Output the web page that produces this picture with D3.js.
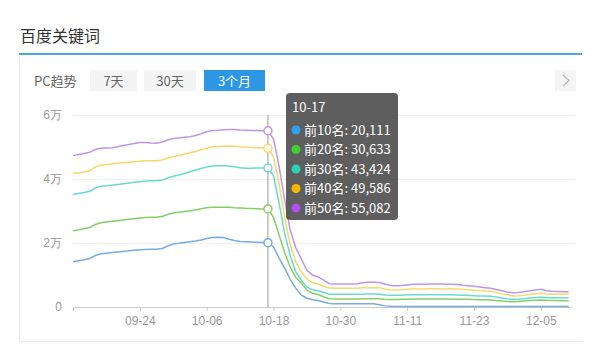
<!DOCTYPE html>
<html lang="zh">
<head>
<meta charset="UTF-8">
<title>百度关键词</title>
<script src="https://d3js.org/d3.v7.min.js"></script>
<style>
  body { margin: 0; background: #fff; }
  svg { display: block; font-family: "Noto Sans CJK SC", "Noto Sans", sans-serif; }
  .tick text { fill: #999; font-size: 12px; }
</style>
</head>
<body>
<svg id="chart" width="600" height="355"></svg>
<script>
// daily ranks, 09-12 .. 12-10
const top10 = [14160, 14470, 14780, 15160, 16090, 16620, 16810, 17000, 17190, 17375, 17560, 17720, 17875, 18000, 18030, 18030, 18280, 19060, 19690, 19900, 20160, 20400, 20625, 20940, 21400, 21750, 21780, 21720, 21160, 20750, 20470, 20375, 20310, 20250, 20190, 20111,
  18750, 15300, 12200, 8600, 5900, 3700, 2750, 2250, 2000, 1550, 1100,
  1030, 1030, 1030, 1030, 1030, 1030, 1020, 1000, 700, 350, 200, 150, 150, 150, 150, 150, 150, 150, 150, 150, 150, 150, 150, 150, 150, 150, 150, 150, 150, 150, 150, 150, 150, 150, 150, 150, 150, 150, 150, 150, 150, 150, 150];
const top20 = [23810, 24125, 24440, 24840, 25780, 26340, 26560, 26780, 26970, 27190, 27400, 27590, 27810, 27970, 28030, 28030, 28280, 28900, 29375, 29590, 29840, 30060, 30310, 30690, 31000, 31160, 31190, 31190, 31160, 31030, 30940, 30840, 30780, 30720, 30660, 30633,
  28000, 22500, 17000, 12500, 9200, 7400, 5300, 4300, 3900, 3200, 2600,
  2500, 2500, 2500, 2500, 2500, 2550, 2600, 2600, 2550, 2400, 2350, 2350, 2400, 2450, 2500, 2500, 2500, 2500, 2500, 2500, 2480, 2450, 2450, 2400, 2400, 2350, 2300, 2250, 2200, 2050, 1850, 1700, 1650, 1700, 1850, 2000, 2100, 2190, 2100, 2000, 2000, 1970, 1970];
const top30 = [35160, 35470, 35780, 36160, 37190, 37720, 37870, 38060, 38280, 38530, 38750, 38970, 39160, 39375, 39470, 39470, 39690, 40310, 40840, 41250, 41720, 42280, 42810, 43280, 43750, 44060, 44125, 44125, 44060, 43810, 43500, 43340, 43375, 43440, 43440, 43424,
  41000, 32500, 23000, 16000, 11000, 8300, 6200, 5400, 5100, 4600, 4000,
  3950, 3950, 3950, 3950, 3950, 4000, 4050, 4050, 4000, 3750, 3650, 3650, 3700, 3800, 3850, 3850, 3850, 3850, 3850, 3850, 3800, 3800, 3780, 3700, 3650, 3550, 3450, 3400, 3350, 3100, 2800, 2550, 2400, 2450, 2600, 2800, 2950, 3030, 2950, 2900, 2900, 2900, 2900];
const top40 = [41720, 41940, 42190, 42500, 43750, 44375, 44530, 44690, 44910, 45060, 45220, 45375, 45530, 45720, 45720, 45720, 45940, 46560, 47030, 47340, 47720, 48190, 48590, 49130, 49590, 50000, 50160, 50250, 50310, 50220, 50060, 49940, 49810, 49750, 49690, 49586,
  47000, 38500, 28000, 19500, 14000, 11000, 8700, 7600, 7200, 6500, 5900,
  5840, 5840, 5840, 5840, 5850, 6000, 6050, 6050, 6000, 5600, 5400, 5350, 5400, 5550, 5650, 5650, 5650, 5700, 5700, 5650, 5650, 5620, 5600, 5500, 5400, 5250, 5150, 5000, 4900, 4500, 4100, 3800, 3450, 3500, 3700, 3950, 4150, 4280, 4100, 4000, 3980, 3970, 3970];
const top50 = [47300, 47660, 47970, 48340, 49220, 49625, 49690, 49780, 50090, 50470, 50780, 51090, 51410, 51410, 51250, 51160, 51560, 52190, 52660, 52810, 53030, 53220, 53590, 54120, 54780, 55160, 55250, 55380, 55500, 55470, 55310, 55220, 55160, 55120, 55090, 55082,
  52500, 44000, 33500, 24000, 18500, 15000, 11500, 10000, 9400, 8400, 7300,
  7190, 7190, 7190, 7190, 7250, 7600, 7700, 7700, 7650, 7200, 6700, 6660, 6700, 6900, 7090, 7100, 7100, 7150, 7150, 7150, 7100, 7100, 7050, 6800, 6660, 6450, 6250, 6050, 5840, 5500, 5100, 4700, 4470, 4550, 4780, 5050, 5300, 5530, 5100, 4900, 4850, 4800, 4780];

const seriesNames = ["前10名", "前20名", "前30名", "前40名", "前50名"];
const lineColors = ["#76acdf", "#86cf68", "#68dad2", "#f6d86c", "#c096e4"];
const dotColors = ["#2f9ff0", "#44cc30", "#27d3b6", "#f7b600", "#b050f0"];
const tickLabels = ["09-12", "09-24", "10-06", "10-18", "10-30", "11-11", "11-23", "12-05"];
const yTicks = [0, 20000, 40000, 60000];
const yTickLabels = ["0", "2万", "4万", "6万"];
const buttons = ["7天", "30天", "3个月"];
const hoverDay = "10-17";

const series = [top10, top20, top30, top40, top50];
const fmtDay = d3.timeFormat("%m-%d");
const days = d3.timeDay.range(new Date(2016, 8, 12), new Date(2016, 11, 11)).map(fmtDay);

const svg = d3.select("#chart");

// header
svg.append("text").attr("x", 20).attr("y", 42)
  .attr("font-size", 16).attr("fill", "#333").text("百度关键词");
svg.append("line").attr("x1", 19).attr("x2", 582).attr("y1", 54).attr("y2", 54)
  .attr("stroke", "#4fa9dd").attr("stroke-width", 2);

// panel borders
svg.append("line").attr("x1", 19.5).attr("x2", 19.5).attr("y1", 55).attr("y2", 342)
  .attr("stroke", "#ebebeb");
svg.append("line").attr("x1", 19).attr("x2", 582).attr("y1", 341.5).attr("y2", 341.5)
  .attr("stroke", "#ebebeb");

// controls
svg.append("text").attr("x", 34).attr("y", 86)
  .attr("font-size", 13).attr("fill", "#666").text("PC趋势");

const btnX = [90, 144, 204];
const btnW = [47, 52, 61];
const btn = svg.append("g").selectAll("g").data(buttons).join("g");
btn.append("rect")
  .attr("x", (d, i) => btnX[i]).attr("y", 70)
  .attr("width", (d, i) => btnW[i]).attr("height", 21)
  .attr("fill", (d, i) => i === 2 ? "#2d97e3" : "#f4f4f4");
btn.append("text")
  .attr("x", (d, i) => btnX[i] + btnW[i] / 2).attr("y", 85.5)
  .attr("text-anchor", "middle").attr("font-size", 13)
  .attr("fill", (d, i) => i === 2 ? "#fff" : "#666")
  .text(d => d);

svg.append("rect").attr("x", 555).attr("y", 70).attr("width", 21).attr("height", 21)
  .attr("fill", "#f4f4f4");
svg.append("path").attr("d", "M563,75 L569,80.5 L563,86")
  .attr("fill", "none").attr("stroke", "#b8b8b8").attr("stroke-width", 1.2);

// scales
const x = d3.scalePoint().domain(days).range([73, 568.7]);
const y = d3.scaleLinear().domain([0, 60000]).range([307, 115]);

// grid + y labels
svg.append("g")
  .attr("transform", "translate(73,0)")
  .call(d3.axisRight(y).tickValues(yTicks.slice(1)).tickSize(502).tickFormat(""))
  .call(g => g.select(".domain").remove())
  .call(g => g.selectAll("line").attr("stroke", "#f1f1f1"));

svg.append("g")
  .attr("transform", "translate(62,0)")
  .call(d3.axisLeft(y).tickValues(yTicks).tickSize(0).tickPadding(0)
    .tickFormat((d, i) => yTickLabels[i]))
  .call(g => g.select(".domain").remove());

// x axis
svg.append("g")
  .attr("transform", "translate(0,307)")
  .call(d3.axisBottom(x).tickValues(tickLabels).tickSize(4).tickSizeOuter(0).tickPadding(5)
    .tickFormat((d, i) => i === 0 ? "" : d))
  .call(g => g.select(".domain").attr("stroke", "#ccc").attr("d", "M73,0.5H572"))
  .call(g => g.selectAll(".tick line").attr("stroke", "#ccc"));

// lines
const line = d3.line().x((d, i) => x(days[i])).y(d => y(d));
svg.append("g").selectAll("path").data(series).join("path")
  .attr("d", line)
  .attr("fill", "none")
  .attr("stroke", (d, i) => lineColors[i])
  .attr("stroke-width", 1.5);

// hover crosshair + markers
const hi = days.indexOf(hoverDay);
const hx = x(hoverDay);
svg.append("line").attr("x1", hx).attr("x2", hx).attr("y1", 115).attr("y2", 307)
  .attr("stroke", "#999").attr("stroke-width", 1);
svg.append("g").selectAll("circle").data(series).join("circle")
  .attr("cx", hx).attr("cy", d => y(d[hi])).attr("r", 4)
  .attr("fill", "#fff").attr("stroke", (d, i) => lineColors[i]).attr("stroke-width", 1.5);

// tooltip
const tip = svg.append("g").attr("transform", "translate(286,93)");
tip.append("rect").attr("width", 112).attr("height", 127).attr("rx", 4)
  .attr("fill", "rgba(80,80,80,0.92)");
tip.append("text").attr("x", 6).attr("y", 19).attr("font-size", 13).attr("fill", "#fff")
  .text(hoverDay);
const fmtNum = d3.format(",");
const row = tip.selectAll("g.row").data(series).join("g").attr("class", "row")
  .attr("transform", (d, i) => `translate(0,${37 + i * 19.5})`);
row.append("circle").attr("cx", 10).attr("cy", 0).attr("r", 4.5)
  .attr("fill", (d, i) => dotColors[i]);
row.append("text").attr("x", 18).attr("y", 4.5).attr("font-size", 13).attr("fill", "#fff")
  .text((d, i) => `${seriesNames[i]}: ${fmtNum(d[hi])}`);
</script>
</body>
</html>
